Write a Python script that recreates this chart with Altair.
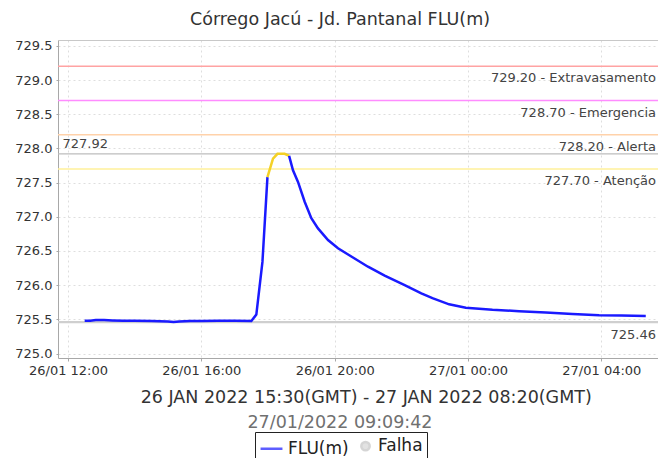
import altair as alt
import pandas as pd

# ---------------- data ----------------
titulo = "Córrego Jacú - Jd. Pantanal FLU(m)"
periodo = "26 JAN 2022 15:30(GMT) - 27 JAN 2022 08:20(GMT)"
gerado = "27/01/2022 09:09:42"

tempos = [
    "2022-01-26 12:30", "2022-01-26 12:40", "2022-01-26 12:50", "2022-01-26 13:05",
    "2022-01-26 13:20", "2022-01-26 13:40", "2022-01-26 14:00", "2022-01-26 14:30",
    "2022-01-26 15:00", "2022-01-26 15:10", "2022-01-26 15:20", "2022-01-26 15:40",
    "2022-01-26 16:00", "2022-01-26 16:30", "2022-01-26 17:00", "2022-01-26 17:30",
    "2022-01-26 17:39", "2022-01-26 17:50", "2022-01-26 17:59", "2022-01-26 18:09",
    "2022-01-26 18:17", "2022-01-26 18:30", "2022-01-26 18:38", "2022-01-26 18:45",
    "2022-01-26 18:54", "2022-01-26 19:06", "2022-01-26 19:18", "2022-01-26 19:30",
    "2022-01-26 19:48", "2022-01-26 20:06", "2022-01-26 20:30", "2022-01-26 21:00",
    "2022-01-26 21:30", "2022-01-26 22:06", "2022-01-26 22:36", "2022-01-26 22:56",
    "2022-01-26 23:26", "2022-01-26 23:56", "2022-01-27 00:44", "2022-01-27 01:32",
    "2022-01-27 02:20", "2022-01-27 03:08", "2022-01-27 03:56", "2022-01-27 04:36",
    "2022-01-27 05:20",
]
niveis = [
    725.48, 725.48, 725.49, 725.49,
    725.485, 725.48, 725.48, 725.475,
    725.47, 725.46, 725.47, 725.475,
    725.475, 725.48, 725.48, 725.475,
    725.57, 726.34, 727.58, 727.85,
    727.92, 727.92, 727.89, 727.68,
    727.51, 727.22, 726.98, 726.83,
    726.66, 726.54, 726.42, 726.27,
    726.14, 726.00, 725.88, 725.81,
    725.72, 725.67, 725.64, 725.62,
    725.60, 725.58, 725.56, 725.555,
    725.55,
]

cota_nomes = ["Extravasamento", "Emergencia", "Alerta", "Atenção"]
cota_valores = [729.20, 728.70, 728.20, 727.70]
cota_cores = ["#ffa3a3", "#ff8cff", "#ffd2aa", "#fff09a"]

legenda_series = ["FLU(m)", "Falha"]
legenda_cores = ["#1a1aff", "#c4c4c4"]
legenda_formas = ["stroke", "circle"]
legenda_tamanhos = [480, 70]
falha_tempos = []
falha_niveis = []

y_ticks = [725.0, 725.5, 726.0, 726.5, 727.0, 727.5, 728.0, 728.5, 729.0, 729.5]
y_dominio = [724.935, 729.585]
x_ticks = [12, 16, 20, 24, 28]            # hours since 26/01 00:00
x_dominio = [11.70, 29.70]
x_rotulos = "(datum.value < 24 ? '26/01 ' : '27/01 ') + (datum.value % 24 < 10 ? '0' : '') + (datum.value % 24) + ':00'"

linha_cor = "#1a1aff"
acima_cor = "#f4d126"

# ---------------- tables ----------------
base = pd.Timestamp("2022-01-26 00:00")
horas = [(pd.Timestamp(t) - base) / pd.Timedelta(hours=1) for t in tempos]

limite = cota_valores[cota_nomes.index("Atenção")]
acima = [i for i, v in enumerate(niveis) if v >= limite]
i1, i2 = acima[0] - 1, acima[-1]
linhas = []
for i in range(0, i1 + 1):
    linhas.append({"h": horas[i], "v": niveis[i], "seg": "a", "cat": "FLU(m)"})
for i in range(i1, i2 + 1):
    linhas.append({"h": horas[i], "v": niveis[i], "seg": "b", "cat": "acima"})
for i in range(i2, len(tempos)):
    linhas.append({"h": horas[i], "v": niveis[i], "seg": "c", "cat": "FLU(m)"})
df_linha = pd.DataFrame(linhas)

df_cotas = pd.DataFrame({
    "nome": cota_nomes,
    "valor": cota_valores,
    "rotulo": [f"{v:.2f} - {n}" for n, v in zip(cota_nomes, cota_valores)],
})
maximo = max(niveis)
minimo = min(niveis)
df_max = pd.DataFrame({"valor": [maximo], "rotulo": [f"{maximo:.2f}"]})
df_min = pd.DataFrame({"valor": [minimo], "rotulo": [f"{minimo:.2f}"]})
df_falha = pd.DataFrame({
    "h": pd.Series(falha_tempos, dtype="float"),
    "v": pd.Series(falha_niveis, dtype="float"),
    "serie": pd.Series([], dtype="object"),
})

cor_escala = alt.Scale(
    domain=["FLU(m)", "acima"] + cota_nomes,
    range=[linha_cor, acima_cor] + cota_cores,
)
x_escala = alt.Scale(domain=x_dominio, nice=False, zero=False)
y_escala = alt.Scale(domain=y_dominio, nice=False, zero=False)

FONT = "DejaVu Sans"

y_eixo = alt.Axis(
    values=y_ticks,
    format=".1f",
    labelFontSize=13,
    labelColor="#333333",
    tickSize=2,
    labelPadding=4,
    grid=True,
    title=None,
)

# ---------------- layers ----------------
regras_cotas = alt.Chart(df_cotas).mark_rule(strokeWidth=1.5).encode(
    y=alt.Y("valor:Q", scale=y_escala, axis=y_eixo),
    color=alt.Color("nome:N", scale=cor_escala, legend=None),
)
regra_max = alt.Chart(df_max).mark_rule(strokeWidth=1.3, color="#bdbdbd").encode(
    y=alt.Y("valor:Q", scale=y_escala, axis=y_eixo),
)
regra_min = alt.Chart(df_min).mark_rule(strokeWidth=2.2, color="#cfcfcf").encode(
    y=alt.Y("valor:Q", scale=y_escala, axis=y_eixo),
)

linha = alt.Chart(df_linha).mark_line(strokeWidth=2.5).encode(
    x=alt.X(
        "h:Q",
        scale=x_escala,
        axis=alt.Axis(
            orient="bottom",
            values=x_ticks,
            labelExpr=x_rotulos,
            labelFontSize=13,
            labelColor="#333333",
            labelFlush=False,
            tickSize=3,
            labelPadding=3,
            grid=True,
            title=periodo,
            titleX=307.7,
            titleY=44,
            titleAlign="center",
            titleBaseline="alphabetic",
            titleFontSize=17.5,
            titleFontWeight="normal",
            titleColor="#333333",
        ),
    ),
    y=alt.Y("v:Q", scale=y_escala, axis=y_eixo),
    color=alt.Color("cat:N", scale=cor_escala, legend=None),
    detail="seg:N",
)

rotulos_cotas = alt.Chart(df_cotas).mark_text(
    align="right", baseline="middle", dx=-2, dy=12, font=FONT, fontSize=13, color="#444444"
).encode(
    x=alt.XDatum(x_dominio[1], type="quantitative", scale=x_escala, axis=None),
    y=alt.Y("valor:Q", scale=y_escala, axis=y_eixo),
    text="rotulo:N",
)
rotulo_min = alt.Chart(df_min).mark_text(
    align="right", baseline="middle", dx=-2, dy=12.5, font=FONT, fontSize=13, color="#444444"
).encode(
    x=alt.XDatum(x_dominio[1], type="quantitative", scale=x_escala, axis=None),
    y=alt.Y("valor:Q", scale=y_escala, axis=y_eixo),
    text="rotulo:N",
)
rotulo_max = alt.Chart(df_max).mark_text(
    align="left", baseline="middle", dx=4.5, dy=-10, font=FONT, fontSize=13, color="#444444"
).encode(
    x=alt.XDatum(
        x_dominio[0],
        type="quantitative",
        scale=x_escala,
        axis=alt.Axis(
            orient="top",
            labels=False,
            ticks=False,
            grid=False,
            domain=True,
            domainColor="#c8c8c8",
            title=gerado,
            titleX=281.5,
            titleY=387,
            titleAlign="center",
            titleBaseline="alphabetic",
            titleFontSize=17.5,
            titleFontWeight="normal",
            titleColor="#707070",
        ),
    ),
    y=alt.Y("valor:Q", scale=y_escala, axis=y_eixo),
    text="rotulo:N",
)

falhas = alt.Chart(df_falha).mark_point(filled=True).encode(
    x=alt.X("h:Q", scale=x_escala, axis=None),
    y=alt.Y("v:Q", scale=y_escala, axis=y_eixo),
    fill=alt.Fill("serie:N", scale=alt.Scale(domain=legenda_series, range=legenda_cores), title=None),
    stroke=alt.Stroke("serie:N", scale=alt.Scale(domain=legenda_series, range=legenda_cores), title=None),
    shape=alt.Shape("serie:N", scale=alt.Scale(domain=legenda_series, range=legenda_formas), title=None),
    size=alt.Size("serie:N", scale=alt.Scale(domain=legenda_series, range=legenda_tamanhos), title=None),
)

chart = (
    alt.layer(regras_cotas, regra_max, regra_min, linha, rotulos_cotas, rotulo_min, rotulo_max, falhas)
    .properties(
        width=600,
        height=318,
        autosize=alt.AutoSizeParams(type="none"),
        padding={"left": 50, "top": 32, "right": 0, "bottom": 100},
        title=alt.TitleParams(
            text=titulo,
            font=FONT,
            fontSize=17.5,
            fontWeight="normal",
            color="#333333",
            anchor="middle",
            frame="group",
            dx=-18,
            dy=14.5,
            offset=11.5,
            baseline="alphabetic",
        ),
    )
    .configure_view(stroke=None)
    .configure_axis(
        labelFont=FONT,
        titleFont=FONT,
        domainColor="#a8a8a8",
        tickColor="#a8a8a8",
        gridColor="#dedede",
        gridDash=[2, 3],
    )
    .configure_legend(
        orient="none",
        legendX=197,
        legendY=392,
        direction="horizontal",
        strokeColor="#222222",
        fillColor="white",
        padding=4,
        labelFont=FONT,
        labelFontSize=17,
        labelColor="#222222",
        labelOffset=4,
        columnPadding=7,
        symbolStrokeWidth=2.5,
    )
)

chart.save("out.html", embed_options={"renderer": "svg", "actions": False})
